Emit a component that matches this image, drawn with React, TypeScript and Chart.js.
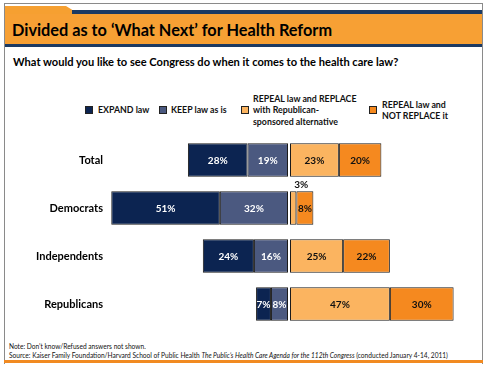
import React, { useEffect, useRef } from "react";
import { Chart, registerables } from "chart.js";

Chart.register(...registerables);

const categories = ["Total", "Democrats", "Independents", "Republicans"];
const expandLaw = [28, 51, 24, 7];
const keepLaw = [19, 32, 16, 8];
const repealReplace = [23, 3, 25, 47];
const repealNotReplace = [20, 8, 22, 30];

const seriesNames = [
  "EXPAND law",
  "KEEP law as is",
  "REPEAL law and REPLACE\nwith Republican-\nsponsored alternative",
  "REPEAL law and\nNOT REPLACE it",
];
const COLORS = ["#0c2451", "#4b5980", "#fbb460", "#f5891f"];
const FONT = "Lato, 'Open Sans', sans-serif";

const makeLabelPlugin = (textColor: string) => ({
  id: "barLabels",
  afterDatasetsDraw(chart: any) {
    const ctx = chart.ctx;
    ctx.save();
    ctx.font = `bold 10px ${FONT}`;
    ctx.textAlign = "center";
    ctx.textBaseline = "middle";
    chart.data.datasets.forEach((ds: any, di: number) => {
      const meta = chart.getDatasetMeta(di);
      meta.data.forEach((bar: any, i: number) => {
        const v = ds.data[i];
        const p = bar.getProps(["x", "y", "base", "height"], true);
        const cx = (p.x + p.base) / 2;
        if (v < 5) {
          const top = p.y - p.height / 2;
          ctx.fillStyle = "#111";
          ctx.fillText(v + "%", cx + 8, top - 6);
        } else {
          ctx.fillStyle = textColor;
          ctx.fillText(v + "%", cx, p.y + 0.5);
        }
      });
    });
    ctx.restore();
  },
});

function makeConfig(side: "left" | "right"): any {
  const isLeft = side === "left";
  const sets = isLeft
    ? [
        { label: seriesNames[1], data: keepLaw, backgroundColor: COLORS[1] },
        { label: seriesNames[0], data: expandLaw, backgroundColor: COLORS[0] },
      ]
    : [
        { label: seriesNames[2], data: repealReplace, backgroundColor: COLORS[2] },
        { label: seriesNames[3], data: repealNotReplace, backgroundColor: COLORS[3] },
      ];
  const yScale: any = {
    stacked: true,
    display: isLeft,
    grid: { display: false, drawTicks: false },
    border: { display: false },
    ticks: {
      padding: 4,
      color: "#000",
      font: { family: FONT, size: 11, weight: "bold" },
    },
  };
  if (isLeft) {
    yScale.afterFit = (scale: any) => {
      scale.width = 107;
      scale.paddingTop = 0;
      scale.paddingBottom = 0;
    };
  }
  return {
    type: "bar",
    data: {
      labels: categories,
      datasets: sets.map((s) => ({
        ...s,
        borderColor: "#1b1b1b",
        borderWidth: 1,
        borderSkipped: false,
        barPercentage: 0.7,
        categoryPercentage: 1,
      })),
    },
    options: {
      indexAxis: "y",
      animation: false,
      responsive: false,
      maintainAspectRatio: false,
      layout: { padding: 0 },
      plugins: { legend: { display: false }, tooltip: { enabled: false } },
      scales: {
        x: {
          stacked: true,
          display: false,
          min: 0,
          max: isLeft ? 85 : 80,
          reverse: isLeft,
        },
        y: yScale,
      },
    },
    plugins: [makeLabelPlugin(isLeft ? "#ffffff" : "#111111")],
  };
}

function BarCanvas({ side, style }: { side: "left" | "right"; style: any }) {
  const ref = useRef<HTMLCanvasElement>(null);
  useEffect(() => {
    const chart = new Chart(ref.current as HTMLCanvasElement, makeConfig(side));
    return () => chart.destroy();
  }, [side]);
  return <canvas ref={ref} width={style.width} height={style.height} style={{ position: "absolute", ...style }} />;
}

const legendItems = [
  { sq: 85, tx: 98 },
  { sq: 159, tx: 171 },
  { sq: 241, tx: 253 },
  { sq: 369, tx: 382 },
];

export default function App() {
  return (
    <div
      style={{
        position: "absolute",
        left: 0,
        top: 0,
        width: 488,
        height: 369,
        background: "#fff",
        overflow: "hidden",
        fontFamily: FONT,
      }}
    >
      {/* frame */}
      <div style={{ position: "absolute", left: 4, top: 3, width: 477, height: 360, border: "1.5px solid #8a8a8a", borderBottom: "none" }} />
      {/* header */}
      <svg width={488} height={60} style={{ position: "absolute", left: 0, top: 0 }}>
        <polygon points="5,6 66,6 74,11 482,11 482,14 5,14" fill="#f6a031" />
        <rect x={72} y={10} width={410} height={4} fill="#1c3a63" />
        <rect x={5} y={14} width={477} height={30} fill="#f7a034" />
        <rect x={5} y={44} width={477} height={3} fill="#1c3a63" />
      </svg>
      <div style={{ position: "absolute", left: 12, top: 20, fontSize: 16.3, fontWeight: 700, color: "#000", whiteSpace: "nowrap", lineHeight: "20px" }}>
        Divided as to ‘What Next’ for Health Reform
      </div>
      <div style={{ position: "absolute", left: 13, top: 54, fontSize: 11.1, fontWeight: 700, color: "#000", whiteSpace: "nowrap", lineHeight: "15px" }}>
        What would you like to see Congress do when it comes to the health care law?
      </div>
      {/* legend */}
      {legendItems.map((it, i) => {
        const lh = 11.5;
        const lines = seriesNames[i].split("\n");
        const h = lines.length * lh;
        return (
          <React.Fragment key={i}>
            <div style={{ position: "absolute", left: it.sq, top: 106, width: 6, height: 6, background: COLORS[i], border: "1px solid #222" }} />
            <div style={{ position: "absolute", left: it.tx, top: 110 - h / 2, fontSize: 8.8, fontWeight: 700, lineHeight: lh + "px", color: "#111", whiteSpace: "nowrap" }}>
              {lines.map((l, k) => (
                <div key={k}>{l}</div>
              ))}
            </div>
          </React.Fragment>
        );
      })}
      {/* charts */}
      <BarCanvas side="left" style={{ left: 0, top: 136, width: 288, height: 192 }} />
      <BarCanvas side="right" style={{ left: 290, top: 136, width: 170, height: 192 }} />
      {/* footnotes */}
      <div style={{ position: "absolute", left: 9, top: 342, fontSize: 6.6, color: "#111", whiteSpace: "nowrap", lineHeight: "8.5px" }}>
        <div>Note: Don’t know/Refused answers not shown.</div>
        <div>
          Source: Kaiser Family Foundation/Harvard School of Public Health{" "}
          <i>The Public’s Health Care Agenda for the 112th Congress</i> (conducted January 4-14, 2011)
        </div>
      </div>
      <div style={{ position: "absolute", left: 4, top: 360, width: 479, height: 3, background: "#f18a21" }} />
    </div>
  );
}
